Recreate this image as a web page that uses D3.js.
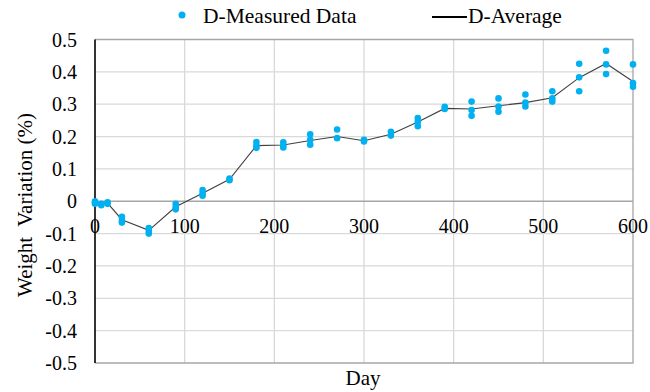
<!DOCTYPE html>
<html>
<head>
<meta charset="utf-8">
<script src="https://cdn.jsdelivr.net/npm/d3@7"></script>
<style>
  body { margin: 0; background: #fff; }
</style>
</head>
<body>
<script>
// sampling days
const days = [0, 7, 14, 30, 60, 90, 120, 150, 180, 210, 240, 270, 300, 330, 360, 390, 420, 450, 480, 510, 540, 570, 600];

// measured specimens per day (weight variation, %)
const measured = [
  [0, -0.005, -0.008],
  [-0.008, -0.012],
  [-0.003, -0.008],
  [-0.048, -0.058, -0.066],
  [-0.083, -0.092, -0.1],
  [-0.008, -0.018, -0.025],
  [0.035, 0.025, 0.017],
  [0.07, 0.065],
  [0.183, 0.172, 0.165],
  [0.182, 0.172, 0.166],
  [0.207, 0.19, 0.175],
  [0.222, 0.195],
  [0.19, 0.185],
  [0.215, 0.203],
  [0.257, 0.246, 0.232],
  [0.292, 0.285],
  [0.308, 0.282, 0.264],
  [0.318, 0.293, 0.277],
  [0.33, 0.305, 0.293],
  [0.34, 0.318, 0.308],
  [0.425, 0.383, 0.34],
  [0.465, 0.423, 0.393],
  [0.423, 0.365, 0.354]
];

// average curve
const average = [-0.003, -0.008, -0.006, -0.057, -0.09, -0.017, 0.025, 0.068, 0.172, 0.174, 0.188, 0.2, 0.187, 0.207, 0.245, 0.287, 0.285, 0.295, 0.305, 0.32, 0.382, 0.426, 0.37];

const xTicks = [0, 100, 200, 300, 400, 500, 600];
const yTicks = [-0.5, -0.4, -0.3, -0.2, -0.1, 0, 0.1, 0.2, 0.3, 0.4, 0.5];
const yTickLabels = ['-0.5', '-0.4', '-0.3', '-0.2', '-0.1', '0', '0.1', '0.2', '0.3', '0.4', '0.5'];

const FONT = '"Liberation Serif", "Times New Roman", serif';

const width = 650, height = 392;
const svg = d3.select(document.body).append('svg')
  .attr('width', width)
  .attr('height', height)
  .attr('font-family', FONT);

const x = d3.scaleLinear().domain([0, 600]).range([95, 633]);
const y = d3.scaleLinear().domain([-0.5, 0.5]).range([363, 39.5]);

// gridlines
svg.append('g').selectAll('line')
  .data(yTicks.filter(v => v !== 0 && v !== 0.5 && v !== -0.5))
  .enter().append('line')
  .attr('x1', x(0)).attr('x2', x(600))
  .attr('y1', d => y(d)).attr('y2', d => y(d))
  .style('stroke', '#d9d9d9').style('stroke-width', 1.3);

svg.append('g').selectAll('line')
  .data(xTicks.filter(v => v > 0 && v < 600))
  .enter().append('line')
  .attr('x1', d => x(d)).attr('x2', d => x(d))
  .attr('y1', y(0.5)).attr('y2', y(-0.5))
  .style('stroke', '#d9d9d9').style('stroke-width', 1.3);

// border (top, right, bottom)
svg.append('path')
  .attr('d', `M${x(0)},${y(0.5)}H${x(600)}V${y(-0.5)}H${x(0)}`)
  .style('fill', 'none').style('stroke', '#a6a6a6').style('stroke-width', 1.3);

// zero axis
svg.append('line')
  .attr('x1', x(0)).attr('x2', x(600))
  .attr('y1', y(0)).attr('y2', y(0))
  .style('stroke', '#a6a6a6').style('stroke-width', 1.3);

// left axis
svg.append('line')
  .attr('x1', x(0)).attr('x2', x(0))
  .attr('y1', y(0.5)).attr('y2', y(-0.5))
  .style('stroke', '#000').style('stroke-width', 1.6);

// y tick labels
svg.append('g').selectAll('text')
  .data(yTicks)
  .enter().append('text')
  .attr('x', 77)
  .attr('y', d => y(d) + 7)
  .attr('text-anchor', 'end')
  .attr('font-size', 20)
  .text((d, i) => yTickLabels[i]);

// x tick labels
svg.append('g').selectAll('text')
  .data(xTicks)
  .enter().append('text')
  .attr('x', d => x(d))
  .attr('y', y(0) + 32)
  .attr('text-anchor', 'middle')
  .attr('font-size', 20)
  .text(d => String(d));

// average line
const line = d3.line()
  .x((d, i) => x(days[i]))
  .y(d => y(d));

svg.append('path')
  .datum(average)
  .attr('d', line)
  .style('fill', 'none')
  .style('stroke', '#404040')
  .style('stroke-width', 1.1);

// measured points
const pts = [];
measured.forEach((vals, i) => vals.forEach(v => pts.push({ day: days[i], v })));

svg.append('g').selectAll('circle')
  .data(pts)
  .enter().append('circle')
  .attr('cx', d => x(d.day))
  .attr('cy', d => y(d.v))
  .attr('r', 3.3)
  .style('fill', '#00b0f0');

// axis titles
svg.append('text')
  .attr('x', 363)
  .attr('y', 385)
  .attr('text-anchor', 'middle')
  .attr('font-size', 21)
  .text('Day');

svg.append('text')
  .attr('transform', 'translate(32,205) rotate(-90)')
  .attr('text-anchor', 'middle')
  .attr('font-size', 21)
  .attr('xml:space', 'preserve')
  .style('white-space', 'pre')
  .text('Weight  Variation (%)');

// legend
svg.append('circle')
  .attr('cx', 182).attr('cy', 15).attr('r', 3.5)
  .style('fill', '#00b0f0');
svg.append('text')
  .attr('x', 203).attr('y', 23)
  .attr('font-size', 21.5)
  .text('D-Measured Data');

svg.append('line')
  .attr('x1', 432).attr('x2', 467)
  .attr('y1', 17).attr('y2', 17)
  .style('stroke', '#000').style('stroke-width', 2);
svg.append('text')
  .attr('x', 468).attr('y', 23)
  .attr('font-size', 21.5)
  .text('D-Average');
</script>
</body>
</html>
